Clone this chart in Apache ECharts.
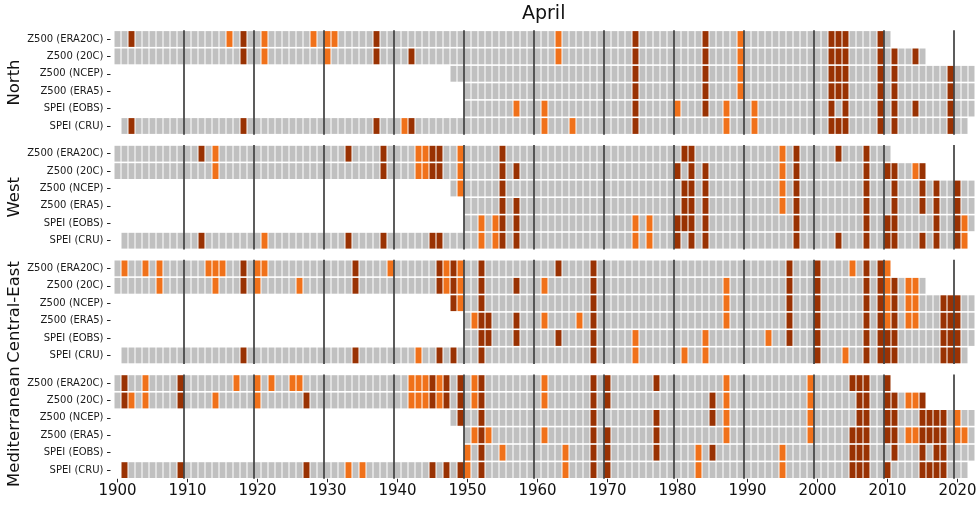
<!DOCTYPE html>
<html>
<head>
<meta charset="utf-8">
<script src="https://cdn.jsdelivr.net/npm/echarts@6/dist/echarts.min.js"></script>
<style>
  html, body { margin: 0; padding: 0; background: #ffffff; }
  #chart { width: 979px; height: 506px; }
</style>
</head>
<body>
<div id="chart"></div>
<script>
// ---------------- DATA ----------------
const chartTitle = 'April';
const regions = ['North', 'West', 'Central-East', 'Mediterranean'];
const rowNames = ['Z500 (ERA20C)', 'Z500 (20C)', 'Z500 (NCEP)', 'Z500 (ERA5)', 'SPEI (EOBS)', 'SPEI (CRU)'];
// first / last year covered by each dataset (same order as rowNames)
const coverageStart = [1900, 1900, 1948, 1950, 1950, 1901];
const coverageEnd   = [2010, 2015, 2022, 2022, 2022, 2021];
const xTickYears = [1900, 1910, 1920, 1930, 1940, 1950, 1960, 1970, 1980, 1990, 2000, 2010, 2020];
const decadeMarks = [1910, 1920, 1930, 1940, 1950, 1960, 1970, 1980, 1990, 2000, 2010, 2020];

// moderate (orange) and extreme (dark) years, one list per dataset row
const northModerate = [
  [1916, 1921, 1928, 1930, 1931, 1963, 1989],
  [1921, 1930, 1963, 1989],
  [1989],
  [1989],
  [1957, 1961, 1980, 1987, 1991],
  [1941, 1961, 1965, 1987, 1991]
];
const northExtreme = [
  [1902, 1918, 1937, 1974, 1984, 2002, 2003, 2004, 2009],
  [1918, 1937, 1942, 1974, 1984, 2002, 2003, 2004, 2009, 2011, 2014],
  [1974, 1984, 2002, 2003, 2004, 2009, 2011, 2019],
  [1974, 1984, 2002, 2003, 2004, 2009, 2011, 2019],
  [1974, 1984, 2002, 2004, 2009, 2011, 2014, 2019],
  [1902, 1918, 1937, 1942, 1974, 2002, 2003, 2004, 2009, 2011, 2019]
];
const westModerate = [
  [1914, 1943, 1944, 1949, 1995],
  [1914, 1943, 1944, 1949, 1995, 2014],
  [1949, 1995],
  [1995],
  [1952, 1954, 1974, 1976, 2021],
  [1921, 1952, 1954, 1974, 1976, 2021]
];
const westExtreme = [
  [1912, 1933, 1938, 1945, 1946, 1955, 1981, 1982, 1997, 2003, 2007],
  [1938, 1945, 1946, 1955, 1957, 1980, 1982, 1984, 1997, 2007, 2010, 2011, 2015],
  [1955, 1981, 1982, 1984, 1997, 2007, 2011, 2015, 2017, 2020],
  [1955, 1957, 1981, 1982, 1984, 1997, 2007, 2011, 2015, 2017, 2020],
  [1955, 1957, 1980, 1981, 1982, 1984, 1997, 2007, 2010, 2011, 2017, 2020],
  [1912, 1933, 1938, 1945, 1946, 1955, 1957, 1980, 1982, 1984, 1997, 2003, 2007, 2010, 2011, 2015, 2017, 2020]
];
const centralEastModerate = [
  [1901, 1904, 1906, 1913, 1914, 1915, 1920, 1921, 1939, 1947, 1949, 2005, 2010],
  [1906, 1914, 1920, 1926, 1947, 1949, 1961, 1987, 2010, 2013, 2014],
  [1949, 1987, 2010, 2013, 2014],
  [1951, 1961, 1966, 1987, 2010, 2013, 2014],
  [1974, 1984, 1993],
  [1943, 1974, 1981, 1984, 2004]
];
const centralEastExtreme = [
  [1918, 1934, 1946, 1948, 1952, 1963, 1968, 1996, 2000, 2007, 2009],
  [1918, 1934, 1946, 1948, 1952, 1957, 1968, 1996, 2000, 2007, 2009, 2011],
  [1948, 1952, 1968, 1996, 2000, 2007, 2009, 2011, 2018, 2019, 2020],
  [1952, 1953, 1957, 1968, 1996, 2000, 2007, 2009, 2011, 2018, 2019, 2020],
  [1952, 1953, 1957, 1963, 1968, 1996, 2000, 2007, 2009, 2010, 2011, 2018, 2019, 2020],
  [1918, 1934, 1946, 1948, 1952, 1968, 2000, 2007, 2009, 2010, 2011, 2018, 2019, 2020]
];
const mediterraneanModerate = [
  [1904, 1917, 1920, 1922, 1925, 1926, 1942, 1943, 1944, 1946, 1951, 1961, 1987, 1999],
  [1902, 1904, 1914, 1920, 1942, 1943, 1944, 1946, 1951, 1961, 1987, 1999, 2013, 2014],
  [1987, 1999, 2020],
  [1951, 1953, 1961, 1987, 1999, 2013, 2014, 2020, 2021],
  [1950, 1955, 1964, 1983, 1995],
  [1933, 1935, 1950, 1964, 1983, 1995]
];
const mediterraneanExtreme = [
  [1901, 1909, 1945, 1947, 1949, 1952, 1968, 1970, 1977, 2005, 2006, 2007, 2010],
  [1901, 1909, 1927, 1945, 1947, 1949, 1952, 1968, 1970, 1985, 2006, 2007, 2010, 2011, 2015],
  [1949, 1952, 1968, 1977, 1985, 2006, 2007, 2010, 2011, 2015, 2016, 2017, 2018],
  [1952, 1968, 1970, 1977, 2005, 2006, 2007, 2010, 2011, 2015, 2016, 2017, 2018],
  [1952, 1968, 1970, 1977, 1985, 2005, 2006, 2007, 2011, 2015, 2017, 2018],
  [1901, 1909, 1927, 1945, 1947, 1949, 1952, 1968, 1970, 2005, 2006, 2007, 2010, 2015, 2016, 2017, 2018]
];

// ---------------- STYLE / LAYOUT ----------------
const moderateByRegion = [northModerate, westModerate, centralEastModerate, mediterraneanModerate];
const extremeByRegion = [northExtreme, westExtreme, centralEastExtreme, mediterraneanExtreme];
const levelColors = ['#c0c0c0', '#f0711a', '#993203'];
const FONT = 'DejaVu Sans';
const gridLeft = 110.5, gridWidth = 868, gridHeight = 104.4;
const gridTops = [30.3, 145.0, 259.7, 374.4];

const chart = echarts.init(document.getElementById('chart'));

const grids = [], xAxes = [], yAxes = [], series = [], graphics = [];

regions.forEach((region, gi) => {
  grids.push({ left: gridLeft, top: gridTops[gi], width: gridWidth, height: gridHeight, outerBoundsMode: 'none', containLabel: false });
  const isBottom = gi === regions.length - 1;
  xAxes.push({
    gridIndex: gi, type: 'value', min: 1899, max: 2023,
    show: true,
    axisLine: { show: false },
    splitLine: { show: false },
    axisTick: { show: isBottom, length: 3.5, customValues: xTickYears, lineStyle: { color: '#222', width: 1 } },
    axisLabel: { show: isBottom, customValues: xTickYears, formatter: v => String(v), fontSize: 15, fontFamily: FONT, color: '#111', margin: 5 }
  });
  yAxes.push({
    gridIndex: gi, type: 'category', data: rowNames, inverse: true,
    axisLine: { show: false },
    splitLine: { show: false },
    axisTick: { show: true, alignWithLabel: true, length: 3.5, lineStyle: { color: '#222', width: 1 } },
    axisLabel: { fontSize: 10, fontFamily: FONT, color: '#1a1a1a', margin: 7 }
  });

  const mod = moderateByRegion[gi], ext = extremeByRegion[gi];
  const cells = [];
  rowNames.forEach((rn, ri) => {
    for (let y = coverageStart[ri]; y <= coverageEnd[ri]; y++) {
      const level = ext[ri].includes(y) ? 2 : (mod[ri].includes(y) ? 1 : 0);
      cells.push([y, ri, level]);
    }
  });
  series.push({
    type: 'custom', name: region, xAxisIndex: gi, yAxisIndex: gi,
    encode: { x: 0, y: 1 },
    data: cells,
    z: 2,
    renderItem: function (params, api) {
      const c = api.coord([api.value(0), api.value(1)]);
      const s = api.size([1, 1]);
      return {
        type: 'rect',
        shape: { x: c[0] - s[0] / 2 + 0.5, y: c[1] - s[1] / 2 + 0.8, width: s[0] - 1, height: s[1] - 1.6 },
        style: { fill: levelColors[api.value(2)] }
      };
    }
  });
  series.push({
    type: 'custom', name: region + ' decades', xAxisIndex: gi, yAxisIndex: gi,
    encode: { x: 0, y: 1 },
    data: decadeMarks.map(d => [d - 0.5, 0]),
    z: 5,
    renderItem: function (params, api) {
      const x = api.coord([api.value(0), 0])[0];
      const cs = params.coordSys;
      return {
        type: 'line',
        shape: { x1: x, y1: cs.y, x2: x, y2: cs.y + cs.height },
        style: { stroke: '#262626', lineWidth: 1.5, opacity: 1 }
      };
    }
  });

  graphics.push({
    type: 'text',
    x: 15, y: gridTops[gi] + gridHeight / 2,
    rotation: Math.PI / 2,
    style: { text: region, font: '16.5px "' + FONT + '"', fill: '#111', align: 'center', verticalAlign: 'middle', textAlign: 'center', textVerticalAlign: 'middle' }
  });
});

chart.setOption({
  animation: false,
  backgroundColor: '#ffffff',
  title: {
    text: chartTitle, left: 522, top: 5, padding: 0,
    textStyle: { fontSize: 19, fontWeight: 'normal', fontFamily: FONT, color: '#111' }
  },
  grid: grids,
  xAxis: xAxes,
  yAxis: yAxes,
  series: series,
  graphic: graphics
});
</script>
</body>
</html>
